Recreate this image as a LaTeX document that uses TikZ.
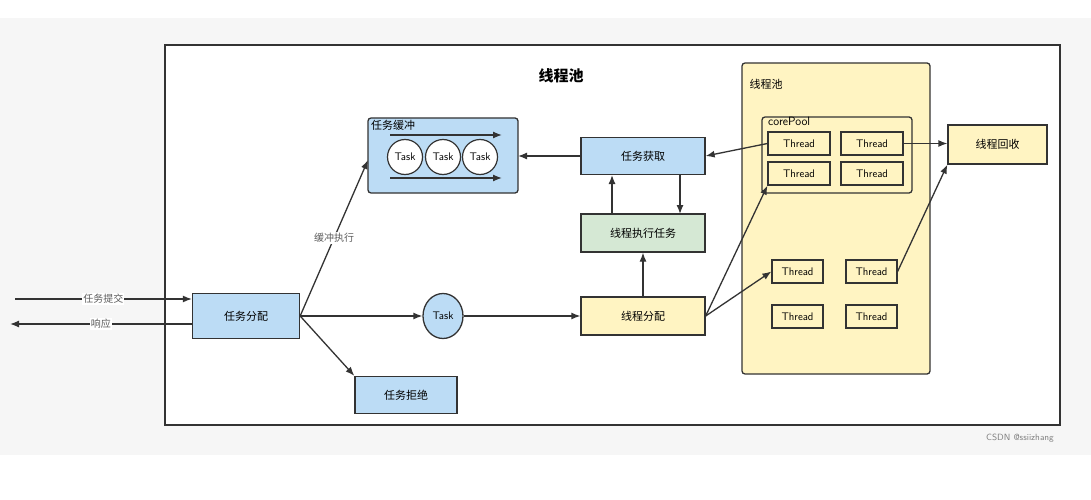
\documentclass[tikz,border=0pt]{standalone}
\usepackage{fontspec}
\setmainfont{Noto Sans CJK SC}
\usetikzlibrary{shapes.geometric,arrows.meta}
\definecolor{bl}{HTML}{BCDCF5}
\definecolor{yl}{HTML}{FFF4C2}
\definecolor{gr}{HTML}{D5E8D4}
\definecolor{ln}{HTML}{333333}
\begin{document}
\begin{tikzpicture}[x=1pt,y=-1pt,
  box/.style={draw=ln,line width=1.3pt,inner sep=0pt,font=\fontsize{11}{13}\selectfont},
  th/.style={draw=ln,line width=1.2pt,fill=yl,minimum width=62pt,minimum height=23pt,inner sep=0pt,font=\fontsize{11}{13}\selectfont\sffamily},
  arr/.style={draw=ln,line width=1.3pt,-{Latex[length=9pt,width=7pt]}},
  lab/.style={fill=white,inner sep=1pt,font=\fontsize{10}{12}\selectfont,text=ln!80}]
\useasboundingbox (0,0) rectangle (1091,500);
\fill[gray!7] (0,18) rectangle (1091,455);
\draw[ln,line width=1.2pt,fill=white] (165,45) rectangle (1060,425);
\node[font=\fontsize{15}{17}\selectfont\bfseries] (title) at (561,76) {线程池};
% buffer
\draw[ln,line width=1.3pt,fill=bl,rounded corners=3pt] (368,118) rectangle (518,193);
\node[anchor=north west,inner sep=1pt,font=\fontsize{11}{13}\selectfont] (bl) at (370,119) {任务缓冲};
\coordinate (b1) at (390,135); \coordinate (b2) at (502,135);
\coordinate (b3) at (390,178); \coordinate (b4) at (502,178);
\draw[arr] (b1) -- (b2); \draw[arr] (b3) -- (b4);
\foreach \i/\x in {1/405,2/443,3/480}
  \node[draw=ln,line width=1.2pt,fill=white,circle,minimum size=35pt,inner sep=0pt,font=\fontsize{11}{13}\selectfont\sffamily] (t\i) at (\x,157) {Task};
\node[box,fill=bl,minimum width=124pt,minimum height=37pt] (get) at (643,156) {任务获取};
\node[box,fill=gr,minimum width=124pt,minimum height=38pt] (exe) at (643,233) {线程执行任务};
\node[box,fill=yl,minimum width=124pt,minimum height=38pt] (alloc) at (643,316) {线程分配};
\node[box,fill=bl,minimum width=107pt,minimum height=45pt] (dist) at (246,316) {任务分配};
\node[box,fill=bl,minimum width=102pt,minimum height=37pt] (rej) at (406,395) {任务拒绝};
\node[draw=ln,line width=1.3pt,fill=bl,ellipse,minimum width=40pt,minimum height=45pt,inner sep=0pt,font=\fontsize{11}{13}\selectfont\sffamily] (task) at (443,316) {Task};
% pool
\draw[ln,line width=1.3pt,fill=yl,rounded corners=3pt] (742,63) rectangle (930,374);
\node[anchor=west,font=\fontsize{11}{13}\selectfont] (pl) at (746,84) {线程池};
\draw[ln,line width=1.3pt,rounded corners=3pt] (762,117) rectangle (912,193);
\node[anchor=north west,inner sep=0pt,font=\fontsize{12}{13}\selectfont\sffamily] (cp) at (768,117) {corePool};
\node[th] (c1) at (799,143.5) {Thread};
\node[th] (c2) at (872,143.5) {Thread};
\node[th] (c3) at (799,173.5) {Thread};
\node[th] (c4) at (872,173.5) {Thread};
\node[th,minimum width=51pt] (n1) at (797.5,271.5) {Thread};
\node[th,minimum width=51pt] (n2) at (871.5,271.5) {Thread};
\node[th,minimum width=51pt] (n3) at (797.5,316.5) {Thread};
\node[th,minimum width=51pt] (n4) at (871.5,316.5) {Thread};
\node[box,fill=yl,minimum width=99pt,minimum height=39pt] (rec) at (997.5,144.5) {线程回收};
% external
\coordinate (in) at (15,299); \coordinate (out) at (10,324);
\draw[arr] (in) -- node[lab] {任务提交} (dist.west|-in);
\draw[arr] (dist.west|-out) -- node[lab] {响应} (out);
\draw[arr] (dist.east) -- (task.west);
\draw[arr] (task.east) -- (alloc.west);
\draw[arr] (dist.east) -- node[lab,pos=0.5,fill=white] {缓冲执行} (368,160);
\draw[arr] (dist.east) -- (rej.north west);
\draw[arr] (get.west) -- (518,156);
\draw[arr] (c1.west) -- (get.east);
\draw[arr] (680,175) -- (680,214);
\draw[arr] (612,214) -- (612,175);
\draw[arr] (alloc.north) -- (exe.south);
\draw[arr] (alloc.east) -- (c3.south west);
\draw[arr] (alloc.east) -- (n1.west);
\draw[arr] (c2.east) -- (rec.west|-c2.east);
\draw[arr] (n2.east) -- (rec.south west);
\node[font=\fontsize{9}{11}\selectfont\sffamily,text=gray] (wm) at (1020,438) {CSDN @ssiizhang};
\end{tikzpicture}
\end{document}
